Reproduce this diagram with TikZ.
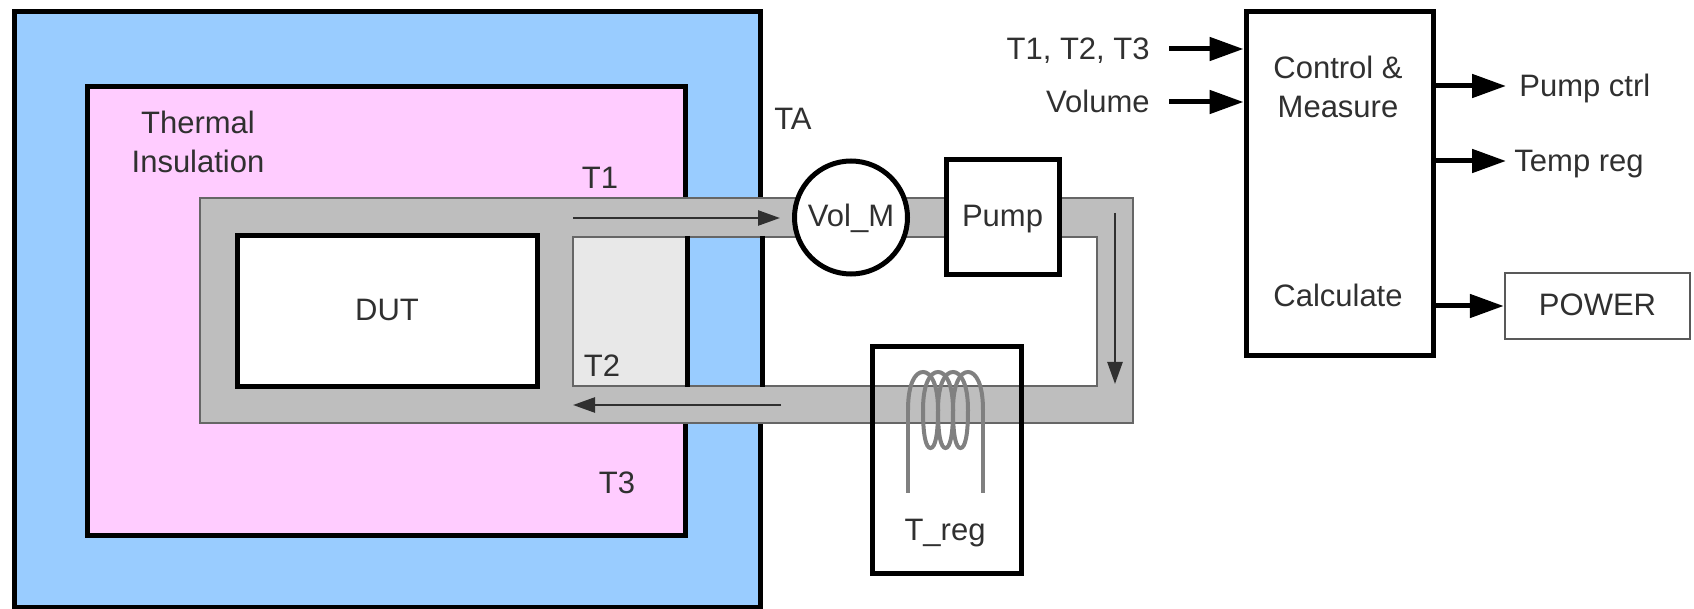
\documentclass[tikz,border=0pt]{standalone}
\usepackage{xcolor}
\usepackage{fontspec}
\setmainfont{Liberation Sans}
\usetikzlibrary{positioning,arrows.meta}
\definecolor{ambient}{HTML}{99CCFF}
\definecolor{insul}{HTML}{FFCCFF}
\definecolor{coolant}{HTML}{BEBEBE}
\definecolor{hollow}{HTML}{E8E8E8}
\definecolor{ink}{HTML}{303030}

\begin{document}
\begin{tikzpicture}[
  x=0.5pt, y=-0.5pt,
  font=\fontsize{15.5}{19.5}\selectfont,
  region/.style={rectangle, draw=black, line width=2.5pt, inner sep=0pt},
  part/.style={region, fill=white, text=ink, text height=11pt, text depth=1.5pt},
  fillonly/.style={rectangle, inner sep=0pt, minimum height=73.5pt},
  lbl/.style={text=ink, text height=11pt, text depth=0pt, inner sep=0pt},
  wall/.style={line width=2.5pt},
  coil/.style={draw=gray, line width=2pt},
  flow/.style={-{Triangle[length=11pt,width=7.5pt]}, line width=1.25pt, draw=ink},
  arrow/.style={-{Triangle[length=17pt,width=11.5pt]}, line width=2.5pt}
]
  \useasboundingbox (0,0) rectangle (1694,609);

  % enclosures
  \node[region, fill=ambient, minimum width=373pt, minimum height=297.5pt] (chamber) at (387,309.5) {};
  \node[region, fill=insul, minimum width=299pt, minimum height=224pt] (insulation) at (386,311) {};

  % coolant loop
  \node[rectangle, draw=black!60, line width=1pt, fill=coolant, inner sep=0pt, minimum width=466.5pt, minimum height=112.5pt] (loop) at (666.5,310.5) {};
  \node[rectangle, draw=black!60, line width=1pt, fill=white, inner sep=0pt, minimum width=262pt, minimum height=74.5pt] (hole) at (835,311.5) {};
  \node[fillonly, fill=hollow, minimum width=55.5pt] (gap) at (629.5,311.5) {};
  \node[fillonly, fill=ambient, minimum width=37.5pt] (wallgap) at (722.5,311.5) {};
  \draw[wall] (insulation.east |- hole.north) -- (insulation.east |- hole.south);
  \draw[wall] (chamber.east |- hole.north) -- (chamber.east |- hole.south);

  \node[part, minimum width=150pt, minimum height=75.5pt] (dut) at (387,311.5) {DUT};
  \node[part, circle, minimum size=56.5pt] (volm) at (851,217.5) {Vol\_M};
  \node[part, minimum width=56.5pt, minimum height=57.5pt, right=16.75pt of volm] (pump) {Pump};
  \node[region, minimum width=74.5pt, minimum height=113pt] (treg) at (946.5,460) {};

  % heater coil
  \draw[coil] (908,493) -- (908,410);
  \foreach \n in {0,1,2,3} {
    \draw[coil] ({908+15*\n},410) .. controls ({908+15*\n},384) and ({915+15*\n},372) .. ({923+15*\n},372)
      .. controls ({931+15*\n},372) and ({938+15*\n},384) .. ({938+15*\n},410);
  }
  \foreach \n in {0,1,2} {
    \draw[coil] ({938+15*\n},410) .. controls ({938+15*\n},436) and ({935+15*\n},448) .. ({930.5+15*\n},448)
      .. controls ({926+15*\n},448) and ({923+15*\n},436) .. ({923+15*\n},410);
  }
  \draw[coil] (983,410) -- (983,493);

  % flow direction
  \coordinate (flowastart) at (573,218);
  \coordinate (flowaend) at (780,218);
  \coordinate (flowbstart) at (1115,213);
  \coordinate (flowbend) at (1115,384);
  \coordinate (flowcstart) at (781,405);
  \coordinate (flowcend) at (573,405);
  \draw[flow] (flowastart) -- (flowaend);
  \draw[flow] (flowbstart) -- (flowbend);
  \draw[flow] (flowcstart) -- (flowcend);

  % labels
  \node[text=ink, align=center] (insullbl) at (198,142) {Thermal\\Insulation};
  \node[lbl] (tone) at (600,178) {T1};
  \node[lbl] (ttwo) at (602,366) {T2};
  \node[lbl] (tthree) at (617,483) {T3};
  \node[lbl] (tamb) at (793,119) {TA};
  \node[lbl] (treglbl) at (945,529) {T\_reg};

  % controller
  \node[part, minimum width=93.5pt, minimum height=172pt] (ctrl) at (1339.5,184) {};
  \node[text=ink, align=center] (ctrllbl) at (1338,87) {Control \&\\Measure};
  \node[lbl] (calc) at (1338,296) {Calculate};
  \node[part, draw=black!65, line width=1.25pt, minimum width=92.5pt, minimum height=33pt] (power) at (1597.5,306) {POWER};

  \node[lbl, anchor=east, inner xsep=9.5pt] (temps) at (1169,49) {T1, T2, T3};
  \node[lbl, anchor=east, inner xsep=9.5pt] (volume) at (1169,102) {Volume};
  \node[lbl, anchor=west, inner xsep=6.5pt] (pumpctrl) at (1506,86) {Pump ctrl};
  \node[lbl, anchor=west, inner xsep=4pt] (tempreg) at (1506,161) {Temp reg};

  \draw[arrow] (temps.east) -- (temps.east -| ctrl.west);
  \draw[arrow] (volume.east) -- (volume.east -| ctrl.west);
  \draw[arrow] (ctrl.east |- pumpctrl.west) -- (pumpctrl.west);
  \draw[arrow] (ctrl.east |- tempreg.west) -- (tempreg.west);
  \draw[arrow] (ctrl.east |- power.west) -- (power.west);
\end{tikzpicture}
\end{document}
